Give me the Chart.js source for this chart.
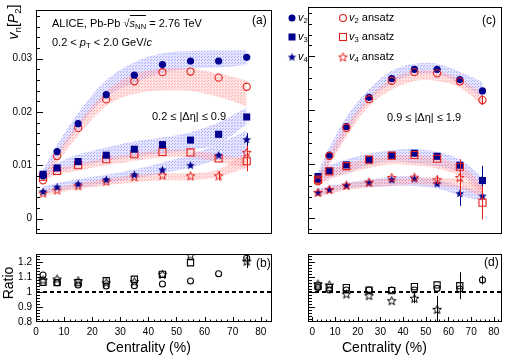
<!DOCTYPE html>
<html>
<head>
<meta charset="utf-8">
<script src="https://cdn.jsdelivr.net/npm/chart.js@4.4.0/dist/chart.umd.min.js"></script>
<style>
  body { margin: 0; background: #fff; }
  #wrap { position: relative; width: 512px; height: 361px; font-family: "Liberation Sans", Arial, Helvetica, sans-serif; color: #000; overflow: hidden; }
  #wrap canvas { position: absolute; left: 0; top: 0; }
  .t { position: absolute; white-space: nowrap; font-size: 11px; line-height: 1; }
  .t sub { font-size: 70%; vertical-align: -0.3em; line-height: 0; }
  .big { font-size: 14px; }
  .lbl { font-size: 12px; }
  .rot { transform: rotate(-90deg); transform-origin: center center; text-align: center; }
</style>
</head>
<body>
<div id="wrap">
  <canvas id="pa" width="512" height="361"></canvas>
  <canvas id="pc" width="512" height="361"></canvas>
  <canvas id="pb" width="512" height="361"></canvas>
  <canvas id="pd" width="512" height="361"></canvas>

  <div class="t" style="left:52px;top:18px;">ALICE, Pb-Pb <span>√<span style="border-top:1px solid #000;padding-top:1px;"><i>s</i><sub>NN</sub></span></span> = 2.76 TeV</div>
  <div class="t" style="left:52px;top:37px;">0.2 &lt; <i>p</i><sub>T</sub> &lt; 2.0 GeV/<i>c</i></div>
  <div class="t" style="left:152px;top:111px;">0.2 ≤ |Δη| ≤ 0.9</div>
  <div class="t" style="left:387px;top:112px;">0.9 ≤ |Δη| ≤ 1.9</div>
  <div class="t lbl" style="left:252px;top:14px;">(a)</div>
  <div class="t lbl" style="left:482px;top:14px;">(c)</div>
  <div class="t lbl" style="left:256px;top:257px;">(b)</div>
  <div class="t lbl" style="left:484px;top:256px;">(d)</div>

  <div class="t" style="left:298px;top:12px;"><i>v</i><sub>2</sub></div>
  <div class="t" style="left:298px;top:31px;"><i>v</i><sub>3</sub></div>
  <div class="t" style="left:298px;top:51px;"><i>v</i><sub>4</sub></div>
  <div class="t" style="left:349px;top:12px;"><i>v</i><sub>2</sub> ansatz</div>
  <div class="t" style="left:349px;top:31px;"><i>v</i><sub>3</sub> ansatz</div>
  <div class="t" style="left:349px;top:51px;"><i>v</i><sub>4</sub> ansatz</div>

  <div class="t big rot" style="left:-17px;top:15px;width:60px;"><i>v</i><sub>n</sub>[<i>P</i><sub>2</sub>]</div>
  <div class="t big rot" style="left:-22px;top:276px;width:60px;">Ratio</div>
  <div class="t big" style="left:106px;top:340px;">Centrality (%)</div>
  <div class="t big" style="left:342px;top:340px;">Centrality (%)</div>
</div>

<script>
// centrality bin centres (%)
const centrality = [2.5, 7.5, 15, 25, 35, 45, 55, 65, 75];

// panel (a): 0.2 <= |dEta| <= 0.9
const aV2 = [0.0080, 0.01256, 0.01778, 0.02323, 0.02688, 0.02886, 0.02954, 0.02954, 0.03022];
const aV2Ansatz = [0.00716, 0.01171, 0.01699, 0.02233, 0.02574, 0.02744, 0.02756, 0.02642, 0.02471];
const aV3 = [0.0083, 0.00949, 0.01069, 0.01188, 0.0130, 0.01386, 0.01471, 0.0158, 0.01904];
const aV3Ansatz = [0.00784, 0.00892, 0.0100, 0.01113, 0.01205, 0.01249, 0.01239, 0.01125, 0.01074];
const aV3AnsatzErr = [0, 0, 0, 0, 0, 0, 0, 0, 0.0019];
const aV4 = [0.00506, 0.00591, 0.00648, 0.00733, 0.00823, 0.00915, 0.0100, 0.01188, 0.01483];
const aV4Err = [0, 0, 0, 0, 0, 0, 0, 0.0004, 0.0012];
const aV4Ansatz = [0.00477, 0.00534, 0.00614, 0.00699, 0.00784, 0.00813, 0.00801, 0.00801, 0.01239];
const aV4AnsatzErr = [0, 0, 0, 0, 0, 0, 0, 0.0009, 0.0025];

// panel (a) bands
const aV2BlueLo = [0.0076, 0.0115, 0.0170, 0.0228, 0.0254, 0.0273, 0.0281, 0.0283, 0.0288];
const aV2BlueHi = [0.0092, 0.0138, 0.0198, 0.0259, 0.0293, 0.0310, 0.0314, 0.0315, 0.0315];
const aV2RedLo = [0.0066, 0.0104, 0.0155, 0.0211, 0.0234, 0.0240, 0.0239, 0.0228, 0.0211];
const aV2RedHi = [0.0078, 0.0122, 0.0178, 0.0239, 0.0271, 0.0281, 0.0281, 0.0272, 0.0259];
const aV3BlueLo = [0.0076, 0.0086, 0.0098, 0.0108, 0.0116, 0.0122, 0.0128, 0.0140, 0.0177];
const aV3BlueHi = [0.0090, 0.0104, 0.0120, 0.0133, 0.0145, 0.0152, 0.0162, 0.0180, 0.0208];
const aV3RedLo = [0.0072, 0.0082, 0.0090, 0.0100, 0.0108, 0.0115, 0.0115, 0.0105, 0.0095];
const aV3RedHi = [0.0082, 0.0094, 0.0102, 0.0114, 0.0122, 0.0128, 0.0128, 0.0120, 0.0112];
const aV4BlueLo = [0.0047, 0.0052, 0.0058, 0.0066, 0.0075, 0.0085, 0.0095, 0.0110, 0.0114];
const aV4BlueHi = [0.0060, 0.0066, 0.0074, 0.0082, 0.0092, 0.0105, 0.0120, 0.0140, 0.0165];
const aV4RedLo = [0.0042, 0.0048, 0.0055, 0.0062, 0.0068, 0.0072, 0.0072, 0.0078, 0.0095];
const aV4RedHi = [0.0052, 0.0058, 0.0066, 0.0074, 0.0082, 0.0085, 0.0085, 0.0092, 0.0125];

// panel (c): 0.9 <= |dEta| <= 1.9
const cV2 = [0.0072, 0.01171, 0.01699, 0.02238, 0.02585, 0.02756, 0.02756, 0.02568, 0.02358];
const cV2Err = [0, 0, 0, 0, 0, 0, 0, 0, 0.0004];
const cV2Ansatz = [0.00687, 0.01154, 0.01676, 0.02204, 0.02545, 0.02705, 0.02682, 0.02534, 0.02187];
const cV2AnsatzErr = [0, 0, 0, 0, 0, 0, 0, 0, 0.0009];
const cV3 = [0.00773, 0.00881, 0.00989, 0.01085, 0.01165, 0.01205, 0.01148, 0.00983, 0.00699];
const cV3Err = [0, 0, 0, 0, 0, 0, 0, 0.0005, 0.0027];
const cV3Ansatz = [0.00716, 0.00869, 0.00966, 0.01085, 0.01159, 0.01171, 0.01103, 0.00955, 0.0029];
const cV3AnsatzErr = [0, 0, 0, 0, 0, 0, 0, 0, 0.0031];
const cV4 = [0.00477, 0.00528, 0.00608, 0.0066, 0.00716, 0.00733, 0.00642, 0.0046, 0.00415];
const cV4Err = [0, 0, 0, 0, 0, 0, 0.0005, 0.0023, 0.0012];
const cV4Ansatz = [0.0048, 0.00534, 0.00614, 0.0067, 0.00756, 0.00761, 0.00716, 0.00756, null];
const cV4AnsatzErr = [0, 0, 0, 0, 0, 0, 0.0008, 0.0034, 0];

// panel (c) bands
const cV2BlueLo = [0.0063, 0.0102, 0.0157, 0.0218, 0.0250, 0.0266, 0.0266, 0.0250, 0.0225];
const cV2BlueHi = [0.0085, 0.0131, 0.0187, 0.0239, 0.0273, 0.0286, 0.0286, 0.0271, 0.0252];
const cV2RedLo = [0.0060, 0.0098, 0.0150, 0.0208, 0.0238, 0.0254, 0.0254, 0.0242, 0.0208];
const cV2RedHi = [0.0075, 0.0120, 0.0172, 0.0225, 0.0258, 0.0272, 0.0272, 0.0258, 0.0232];
const cV3BlueLo = [0.0063, 0.0075, 0.0085, 0.0098, 0.0106, 0.0102, 0.0097, 0.0084, 0.0051];
const cV3BlueHi = [0.0085, 0.0098, 0.0109, 0.0120, 0.0126, 0.0128, 0.0123, 0.0109, 0.0077];
const cV3RedLo = [0.0060, 0.0072, 0.0082, 0.0093, 0.0100, 0.0098, 0.0092, 0.0078, 0.0045];
const cV3RedHi = [0.0078, 0.0090, 0.0100, 0.0110, 0.0116, 0.0117, 0.0112, 0.0098, 0.0065];
const cV4BlueLo = [0.0041, 0.0047, 0.0055, 0.0058, 0.0060, 0.0060, 0.0055, 0.0042, 0.0033];
const cV4BlueHi = [0.0055, 0.0060, 0.0066, 0.0072, 0.0077, 0.0077, 0.0072, 0.0060, 0.0050];
const cV4RedLo = [0.0040, 0.0045, 0.0052, 0.0057, 0.0060, 0.0062, 0.0060, 0.0055, 0.0040];
const cV4RedHi = [0.0052, 0.0058, 0.0064, 0.0070, 0.0074, 0.0076, 0.0075, 0.0072, 0.0060];

// panel (b): ratios for 0.2 <= |dEta| <= 0.9
const bV2Ratio = [1.113, 1.062, 1.047, 1.04, 1.042, 1.053, 1.073, 1.122, 1.225];
const bV3Ratio = [1.065, 1.062, 1.062, 1.075, 1.085, 1.118, 1.195, null, null];
const bV4Ratio = [1.08, 1.087, 1.075, 1.062, 1.069, 1.118, 1.247, null, 1.205];
const bV4RatioErr = [0, 0, 0, 0, 0, 0, 0, 0, 0.045];

// panel (d): ratios for 0.9 <= |dEta| <= 1.9
const dV2Ratio = [1.03, 1.013, 1.013, 1.013, 1.013, 1.013, 1.024, 1.02, 1.08];
const dV2RatioErr = [0, 0, 0, 0, 0, 0, 0, 0, 0.03];
const dV3Ratio = [1.04, 1.029, 1.029, 1.013, 1.009, 1.036, 1.047, 1.042, null];
const dV3RatioErr = [0, 0, 0, 0, 0, 0, 0, 0.09, 0];
const dV4Ratio = [1.053, 1.047, 0.987, 0.976, 0.942, 0.958, 0.884, null, null];
const dV4RatioErr = [0, 0, 0, 0, 0, 0.033, 0.09, 0, 0];

// tick positions
const xMajorTicks = [0, 10, 20, 30, 40, 50, 60, 70, 80];
const xMinorTicks = [2, 4, 6, 8, 12, 14, 16, 18, 22, 24, 26, 28, 32, 34, 36, 38, 42, 44, 46, 48, 52, 54, 56, 58, 62, 64, 66, 68, 72, 74, 76, 78, 82];
const vnMajorTicks = [0, 0.01, 0.02, 0.03];
const vnMinorTicks = [-0.002, 0.002, 0.004, 0.006, 0.008, 0.012, 0.014, 0.016, 0.018, 0.022, 0.024, 0.026, 0.028, 0.032, 0.034, 0.036, 0.038];
const ratioMajorTicks = [0.8, 0.9, 1, 1.1, 1.2];
const ratioMinorTicks = [0.82, 0.84, 0.86, 0.88, 0.92, 0.94, 0.96, 0.98, 1.02, 1.04, 1.06, 1.08, 1.12, 1.14, 1.16, 1.18, 1.22, 1.24];

const FONT = '"Liberation Sans", Arial, Helvetica, sans-serif';
const BLUE = '#00008e';
const RED = '#e2211c';

function makePattern(base, dot) {
  const c = document.createElement('canvas');
  c.width = 3; c.height = 3;
  const g = c.getContext('2d');
  g.fillStyle = base; g.fillRect(0, 0, 3, 3);
  g.fillStyle = dot; g.fillRect(0, 0, 1, 1); g.fillRect(1, 2, 1, 1);
  return g.createPattern(c, 'repeat');
}
const blueFill = makePattern('rgba(160,160,255,0.28)', 'rgba(120,120,255,0.5)');
const redFill = makePattern('rgba(255,160,160,0.3)', 'rgba(255,120,120,0.45)');

function makeStar(r, fill, stroke) {
  const s = Math.ceil(2 * r + 3);
  const c = document.createElement('canvas');
  c.width = s; c.height = s;
  const g = c.getContext('2d');
  g.beginPath();
  for (let i = 0; i < 10; i++) {
    const rad = i % 2 ? r * 0.42 : r;
    const ang = -Math.PI / 2 + i * Math.PI / 5;
    g.lineTo(s / 2 + rad * Math.cos(ang), s / 2 + 0.4 + rad * Math.sin(ang));
  }
  g.closePath();
  if (fill) { g.fillStyle = fill; g.fill(); }
  if (stroke) { g.lineWidth = 1; g.strokeStyle = stroke; g.stroke(); }
  return c;
}
const starBlue = makeStar(4.6, BLUE, null);
const starRed = makeStar(4.6, null, RED);
const starBlack = makeStar(4.6, null, '#000');

const xy = ys => centrality.map((x, i) => ({ x, y: ys[i] }));

function band(lo, hi, fill) {
  const common = { type: 'line', showLine: true, pointRadius: 0, pointHoverRadius: 0,
    borderWidth: 1, borderColor: 'rgba(0,0,0,0)', tension: 0.35, order: 5 };
  return [
    { ...common, data: xy(lo), fill: false },
    { ...common, data: xy(hi), fill: '-1', backgroundColor: fill }
  ];
}

function markers(ys, style, color, filled, radius, errs) {
  return {
    data: xy(ys), pointStyle: style, pointRadius: radius, pointHoverRadius: radius,
    backgroundColor: filled ? color : 'rgba(0,0,0,0)', borderColor: color,
    pointBorderWidth: filled ? 0 : 1.1, errs: errs, order: 1
  };
}

// inward ticks, frame, dashed unity line, legend markers
const framePlugin = {
  id: 'frame',
  afterDraw(chart, args, o) {
    const { ctx, chartArea: a, scales: { x, y } } = chart;
    ctx.save();
    ctx.strokeStyle = '#000';
    ctx.lineWidth = 1;
    ctx.beginPath();
    (o.yMajor || []).forEach(v => {
      const p = Math.round(y.getPixelForValue(v)) + 0.5;
      if (p < a.top || p > a.bottom) return;
      ctx.moveTo(a.left, p); ctx.lineTo(a.left + 7, p);
    });
    (o.yMinor || []).forEach(v => {
      const p = Math.round(y.getPixelForValue(v)) + 0.5;
      if (p < a.top || p > a.bottom) return;
      ctx.moveTo(a.left, p); ctx.lineTo(a.left + 4, p);
    });
    (o.xMajor || []).forEach(v => {
      const p = Math.round(x.getPixelForValue(v)) + 0.5;
      ctx.moveTo(p, a.bottom); ctx.lineTo(p, a.bottom - 5);
    });
    (o.xMinor || []).forEach(v => {
      const p = Math.round(x.getPixelForValue(v)) + 0.5;
      if (p > a.right) return;
      ctx.moveTo(p, a.bottom); ctx.lineTo(p, a.bottom - 2.5);
    });
    ctx.stroke();
    ctx.strokeRect(Math.round(a.left) + 0.5, Math.round(a.top) + 0.5,
      Math.round(a.right - a.left) - 1, Math.round(a.bottom - a.top) - 1);
    if (o.unity) {
      const p = Math.round(y.getPixelForValue(1));
      ctx.lineWidth = 2;
      ctx.setLineDash([4, 3]);
      ctx.beginPath(); ctx.moveTo(a.left, p); ctx.lineTo(a.right, p); ctx.stroke();
      ctx.setLineDash([]);
    }
    if (o.legend) {
      ctx.lineWidth = 1.1;
      ctx.fillStyle = BLUE;
      ctx.beginPath(); ctx.arc(292, 18, 3.5, 0, Math.PI * 2); ctx.fill();
      ctx.fillRect(288.5, 33.5, 7, 7);
      ctx.drawImage(starBlue, 292 - starBlue.width / 2, 57 - starBlue.height / 2);
      ctx.strokeStyle = RED;
      ctx.beginPath(); ctx.arc(343, 18, 3.5, 0, Math.PI * 2); ctx.stroke();
      ctx.strokeRect(339.5, 33.5, 7, 7);
      ctx.drawImage(starRed, 343 - starRed.width / 2, 57 - starRed.height / 2);
    }
    ctx.restore();
  }
};

const errorBars = {
  id: 'errorBars',
  beforeDatasetDraw(chart, args) {
    const ds = chart.data.datasets[args.index];
    if (!ds.errs) return;
    const { ctx, chartArea: a, scales: { y } } = chart;
    ctx.save();
    ctx.beginPath();
    ctx.rect(a.left, a.top, a.right - a.left, a.bottom - a.top);
    ctx.clip();
    ctx.strokeStyle = ds.borderColor;
    ctx.lineWidth = 1;
    args.meta.data.forEach((pt, j) => {
      const e = ds.errs[j];
      const v = ds.data[j].y;
      if (!e || v == null) return;
      const px = Math.round(pt.x) + 0.5;
      ctx.beginPath();
      ctx.moveTo(px, y.getPixelForValue(v + e));
      ctx.lineTo(px, y.getPixelForValue(v - e));
      ctx.stroke();
    });
    ctx.restore();
  }
};

function fmtRatio(v) { return v === 1 ? '1' : v.toFixed(1); }
function fmtVn(v) { return v === 0 ? '0' : v.toFixed(2); }

function panel(id, cfg) {
  const tickFont = { family: FONT, size: 10 };
  new Chart(document.getElementById(id), {
    type: 'scatter',
    data: { datasets: cfg.datasets },
    options: {
      responsive: false,
      animation: false,
      events: [],
      layout: { padding: cfg.padding },
      plugins: { legend: { display: false }, tooltip: { enabled: false }, frame: cfg.frame },
      scales: {
        x: {
          type: 'linear', min: cfg.xRange[0], max: cfg.xRange[1], display: cfg.showX,
          grid: { display: false, drawTicks: false }, border: { display: false },
          ticks: { font: tickFont, color: '#000', padding: 4, maxRotation: 0, autoSkip: false },
          afterBuildTicks: s => { s.ticks = xMajorTicks.map(v => ({ value: v })); },
          afterFit: s => { s.height = 20; }
        },
        y: {
          type: 'linear', min: cfg.yRange[0], max: cfg.yRange[1], display: cfg.showY,
          grid: { display: false, drawTicks: false }, border: { display: false },
          ticks: { font: tickFont, color: '#000', padding: 4, autoSkip: false, callback: cfg.fmt },
          afterBuildTicks: s => { s.ticks = cfg.yTicks.map(v => ({ value: v })); },
          afterFit: s => { s.width = 36; }
        }
      }
    },
    plugins: [framePlugin, errorBars]
  });
}

const vnRange = [-0.0029, 0.0391];
const ratioRange = [0.8, 1.2533];

panel('pa', {
  padding: { left: 0, right: 240, top: 7, bottom: 107 },
  xRange: [0, 84], yRange: vnRange, showX: false, showY: true,
  yTicks: vnMajorTicks, fmt: fmtVn,
  frame: { yMajor: vnMajorTicks, yMinor: vnMinorTicks },
  datasets: [
    ...band(aV2RedLo, aV2RedHi, redFill),
    ...band(aV3RedLo, aV3RedHi, redFill),
    ...band(aV4RedLo, aV4RedHi, redFill),
    ...band(aV2BlueLo, aV2BlueHi, blueFill),
    ...band(aV3BlueLo, aV3BlueHi, blueFill),
    ...band(aV4BlueLo, aV4BlueHi, blueFill),
    markers(aV2, 'circle', BLUE, true, 3.6),
    markers(aV3, 'rect', BLUE, true, 5),
    markers(aV4, starBlue, BLUE, true, 5, aV4Err),
    markers(aV2Ansatz, 'circle', RED, false, 3.6),
    markers(aV3Ansatz, 'rect', RED, false, 5, aV3AnsatzErr),
    markers(aV4Ansatz, starRed, RED, false, 5, aV4AnsatzErr)
  ]
});

panel('pc', {
  padding: { left: 272, right: 10, top: 7, bottom: 107 },
  xRange: [-1.9, 83.6], yRange: vnRange, showX: false, showY: false,
  yTicks: vnMajorTicks, fmt: fmtVn,
  frame: { yMajor: vnMajorTicks, yMinor: vnMinorTicks, legend: true },
  datasets: [
    ...band(cV2RedLo, cV2RedHi, redFill),
    ...band(cV3RedLo, cV3RedHi, redFill),
    ...band(cV4RedLo, cV4RedHi, redFill),
    ...band(cV2BlueLo, cV2BlueHi, blueFill),
    ...band(cV3BlueLo, cV3BlueHi, blueFill),
    ...band(cV4BlueLo, cV4BlueHi, blueFill),
    markers(cV2Ansatz, 'circle', RED, false, 3.6, cV2AnsatzErr),
    markers(cV3Ansatz, 'rect', RED, false, 5, cV3AnsatzErr),
    markers(cV4Ansatz, starRed, RED, false, 5, cV4AnsatzErr),
    markers(cV2, 'circle', BLUE, true, 3.6, cV2Err),
    markers(cV3, 'rect', BLUE, true, 5, cV3Err),
    markers(cV4, starBlue, BLUE, true, 5, cV4Err)
  ]
});

panel('pb', {
  padding: { left: 0, right: 240, top: 254, bottom: 19 },
  xRange: [0, 84], yRange: ratioRange, showX: true, showY: true,
  yTicks: ratioMajorTicks, fmt: fmtRatio,
  frame: { yMajor: ratioMajorTicks, yMinor: ratioMinorTicks, xMajor: xMajorTicks, xMinor: xMinorTicks, unity: true },
  datasets: [
    markers(bV2Ratio, 'circle', '#000', false, 3),
    markers(bV3Ratio, 'rect', '#000', false, 4.4),
    markers(bV4Ratio, starBlack, '#000', false, 5, bV4RatioErr)
  ]
});

panel('pd', {
  padding: { left: 272, right: 10, top: 254, bottom: 19 },
  xRange: [-1.9, 83.6], yRange: ratioRange, showX: true, showY: false,
  yTicks: ratioMajorTicks, fmt: fmtRatio,
  frame: { yMajor: ratioMajorTicks, yMinor: ratioMinorTicks, xMajor: xMajorTicks, xMinor: xMinorTicks, unity: true },
  datasets: [
    markers(dV2Ratio, 'circle', '#000', false, 3, dV2RatioErr),
    markers(dV3Ratio, 'rect', '#000', false, 4.4, dV3RatioErr),
    markers(dV4Ratio, starBlack, '#000', false, 5, dV4RatioErr)
  ]
});
</script>
</body>
</html>
